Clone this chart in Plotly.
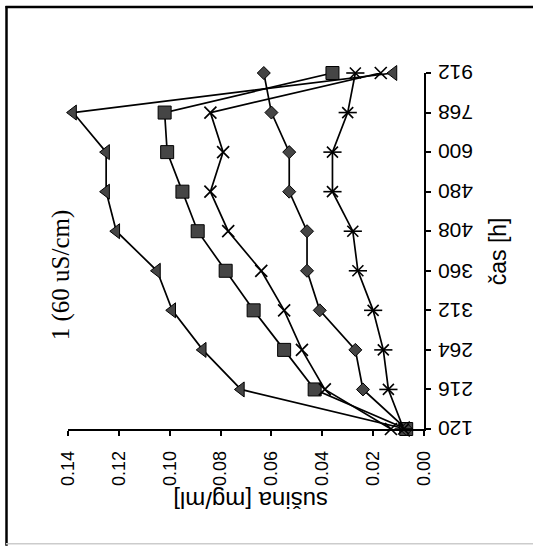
import plotly.graph_objects as go

# sampling times [h] and dry-matter concentration [mg/ml] for the five runs
hours = ["120", "216", "264", "312", "360", "408", "480", "600", "768", "912"]
run_triangle = [0.007, 0.072, 0.087, 0.099, 0.105, 0.121, 0.125, 0.125, 0.138, 0.012]
run_square = [0.007, 0.043, 0.055, 0.067, 0.078, 0.089, 0.095, 0.101, 0.102, 0.036]
run_cross = [0.013, 0.039, 0.048, 0.055, 0.064, 0.077, 0.084, 0.079, 0.084, 0.017]
run_star = [0.008, 0.014, 0.016, 0.020, 0.026, 0.028, 0.036, 0.036, 0.030, 0.027]
run_diamond = [0.007, 0.024, 0.027, 0.041, 0.046, 0.046, 0.053, 0.053, 0.060, 0.063]

W, H = 533, 546
L, R, T, B = 68, 109, 72.5, 117
PW, PH = W - L - R, H - T - B


def px(x):
    return (x - L) / PW


def py(y):
    return (H - B - y) / PH


fill = "#454545"
line = dict(color="black", width=1.7)

fig = go.Figure()
fig.add_trace(go.Scatter(x=run_triangle, y=hours, mode="lines+markers", line=line,
                         marker=dict(symbol="triangle-left", size=13, color=fill,
                                     line=dict(color="black", width=1))))
fig.add_trace(go.Scatter(x=run_square, y=hours, mode="lines+markers", line=line,
                         marker=dict(symbol="square", size=13, color=fill,
                                     line=dict(color="black", width=1))))
fig.add_trace(go.Scatter(x=run_cross, y=hours, mode="lines+markers", line=line,
                         marker=dict(symbol="x-thin-open", size=12, color="black",
                                     line=dict(color="black", width=1.7))))
fig.add_trace(go.Scatter(x=run_diamond, y=hours, mode="lines+markers", line=line,
                         marker=dict(symbol="diamond", size=10, color=fill,
                                     line=dict(color="black", width=1))))
fig.add_trace(go.Scatter(x=run_star, y=hours, mode="lines+markers", line=line,
                         marker=dict(symbol="x-thin-open", size=11, color="black",
                                     line=dict(color="black", width=1.6))))
# horizontal bar completing the six-armed star marker
fig.add_trace(go.Scatter(x=run_star, y=hours, mode="markers",
                         marker=dict(symbol="line-ew-open", size=13, color="black",
                                     line=dict(color="black", width=1.6))))
fig.update_traces(cliponaxis=False)

sans = "Liberation Sans, Arial, sans-serif"
xtick_font = dict(family=sans, size=18, color="black")
ytick_font = dict(family=sans, size=21, color="black")

fig.update_layout(
    width=W, height=H,
    margin=dict(l=L, r=R, t=T, b=B, pad=0),
    paper_bgcolor="white", plot_bgcolor="white",
    showlegend=False,
    xaxis=dict(range=[0.14, 0], dtick=0.02, tickformat=".2f", tickangle=-90,
               showgrid=False, zeroline=False, showline=True, linecolor="black",
               linewidth=1.5, ticks="outside", ticklen=5, tickwidth=1.5,
               tickcolor="black", tickfont=xtick_font, ticklabelstandoff=8),
    yaxis=dict(type="category", categoryorder="array", categoryarray=hours,
               range=[0, len(hours) - 1], side="right", showticklabels=False,
               showgrid=False, zeroline=False, showline=True, linecolor="black",
               linewidth=1.5, ticks="outside", ticklen=5, tickwidth=1.5,
               tickcolor="black"),
)

# time labels, turned upside down, placed at each category position
for i, h in enumerate(hours):
    fig.add_annotation(text=h, x=px(456), y=i, xref="paper", yref="y",
                       xanchor="center", yanchor="middle",
                       showarrow=False, textangle=180, font=ytick_font)

fig.add_annotation(text="sušina [mg/ml]", x=px(251), y=py(500), xref="paper", yref="paper",
                   xanchor="center", yanchor="middle", showarrow=False, textangle=180,
                   font=dict(family=sans, size=24, color="black"))
fig.add_annotation(text="čas [h]", x=px(498), y=py(251), xref="paper", yref="paper",
                   xanchor="center", yanchor="middle", showarrow=False, textangle=-90,
                   font=dict(family=sans, size=23, color="black"))
fig.add_annotation(text="1 (60 uS/cm)", x=px(61), y=py(275), xref="paper", yref="paper",
                   xanchor="center", yanchor="middle", showarrow=False, textangle=-90,
                   font=dict(family="Liberation Serif", size=25, color="black"))

# page frame
fig.add_shape(type="line", xref="paper", yref="paper", x0=px(6.5), x1=px(6.5),
              y0=py(5.5), y1=py(546), line=dict(color="black", width=2.5))
fig.add_shape(type="line", xref="paper", yref="paper", x0=px(5.5), x1=px(533),
              y0=py(6.5), y1=py(6.5), line=dict(color="black", width=2.5))
fig.add_shape(type="line", xref="paper", yref="paper", x0=px(6), x1=px(533),
              y0=py(544), y1=py(544), line=dict(color="#cccccc", width=1.5))

fig.write_html("out.html")
